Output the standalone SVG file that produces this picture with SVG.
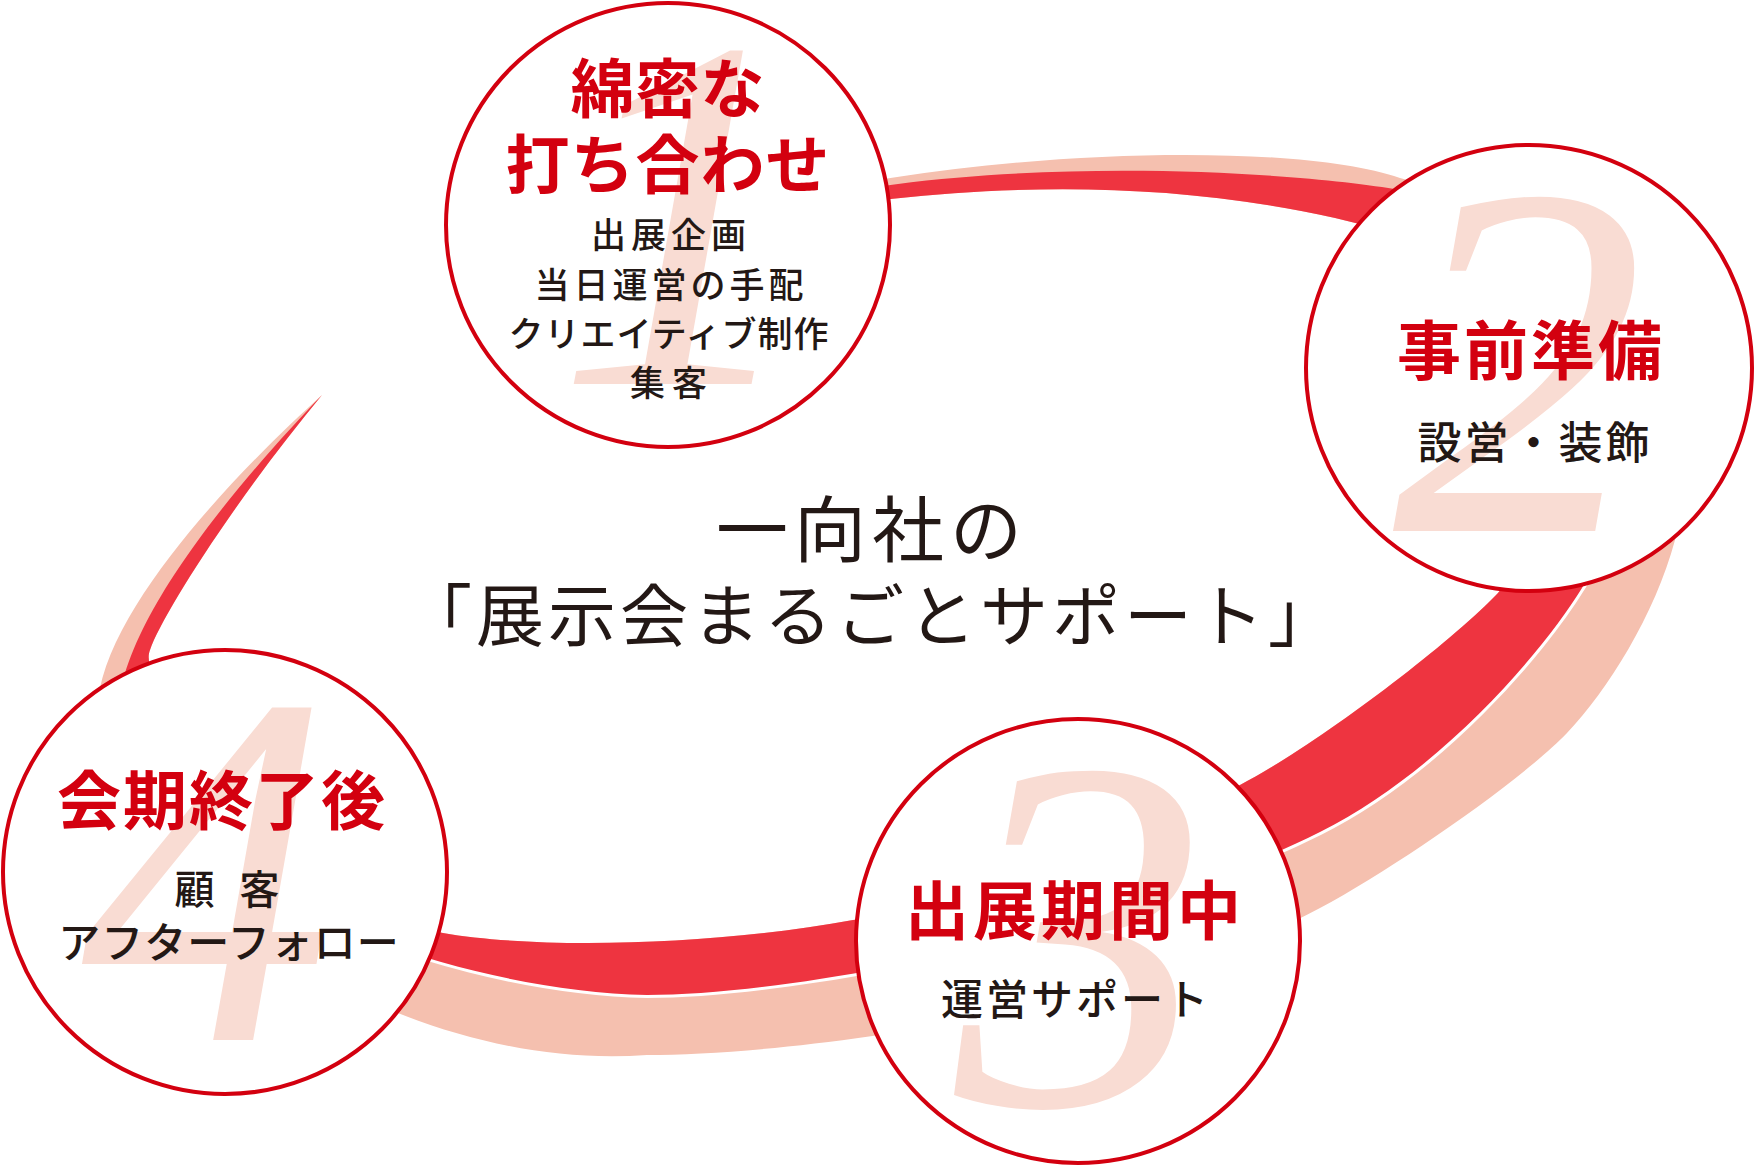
<svg xmlns="http://www.w3.org/2000/svg" width="1754" height="1168" viewBox="0 0 1754 1168">
<style>
.ring-pink{fill:#F5C0AF}
.ring-red{fill:#EE3440}
.ring-gap{fill:none;stroke:#FFFFFF;stroke-width:6}
.node-circle{fill:#FFFFFF;stroke:#D3000F;stroke-width:4}
.num{font-family:"Liberation Serif",serif;font-style:italic;font-size:505px;fill:#F9DCD3;text-anchor:middle}
.title{font-family:"Noto Sans CJK JP",sans-serif;font-weight:700;font-size:64px;fill:#D3000F;text-anchor:middle}
.sub{font-family:"Noto Sans CJK JP",sans-serif;font-weight:500;fill:#231815;text-anchor:middle}
.center{font-family:"Noto Sans CJK JP",serif;font-weight:400;fill:#231815;text-anchor:middle}
</style>
<rect width="1754" height="1168" fill="#FFFFFF"/>
<g id="connectors">
<path class="ring-pink" d="M322,395 C250,460 110,600 98,700 C90,860 380,1075 647,1055 C800,1055 1130,1010 1320,908 C1395,868 1522,780 1567,733 C1607,691 1655,615 1675,540 C1695,465 1530,209 1400,178 C1290,140 980,150 780,200 L780,215 C950,185 1180,170 1400,235 C1510,267 1538,551 1498,593 C1448,645 1320,743 1240,785 C1120,848 1003,905 853,920 C720,945 540,950 443,933 C343,915 130,697 150,650 C162,615 235,500 322,395 Z"/>
<path class="ring-gap" d="M118,720 C125,860 420,990 647,995 C800,995 1120,932 1320,832 C1440,772 1542,653 1582,588 C1600,560 1610,540 1615,520"/>
<path class="ring-red" d="M322,395 C255,465 115,620 118,720 C125,860 420,990 647,995 C800,995 1120,932 1320,832 C1440,772 1542,653 1582,588 C1622,523 1560,215 1400,190 C1300,172 1000,152 780,205 L780,215 C950,185 1180,170 1400,235 C1510,267 1538,551 1498,593 C1448,645 1320,743 1240,785 C1120,848 1003,905 853,920 C720,945 540,950 443,933 C343,915 130,697 150,650 C162,615 235,500 322,395 Z"/>
</g>
<g id="center-title">
<text class="center" x="872" y="556" font-size="72" letter-spacing="6">一向社の</text>
<text class="center" x="872" y="641" font-size="68" letter-spacing="4">「展示会まるごとサポート」</text>
</g>
<g id="node-1">
<circle class="node-circle" cx="668" cy="225" r="222"/>
<text class="num" x="682" y="384">1</text>
<text class="title" x="668" y="112" letter-spacing="1">綿密な</text>
<text class="title" x="668" y="188" letter-spacing="1">打ち合わせ</text>
<text class="sub" x="671" y="248" font-size="35" letter-spacing="5">出展企画</text>
<text class="sub" x="671" y="298" font-size="35" letter-spacing="4">当日運営の手配</text>
<text class="sub" x="669" y="347" font-size="35" letter-spacing="1">クリエイティブ制作</text>
<text class="sub" x="672" y="396" font-size="35" letter-spacing="7">集客</text>
</g>
<g id="node-2">
<circle class="node-circle" cx="1529" cy="368" r="223"/>
<text class="num" x="1519" y="531">2</text>
<text class="title" x="1531" y="374" letter-spacing="3">事前準備</text>
<text class="sub" x="1535" y="459" font-size="44" letter-spacing="3">設営・装飾</text>
</g>
<g id="node-3">
<circle class="node-circle" cx="1078" cy="941" r="222"/>
<text class="num" x="1081" y="1105">3</text>
<text class="title" x="1075" y="934" letter-spacing="4">出展期間中</text>
<text class="sub" x="1076" y="1015" font-size="42" letter-spacing="3">運営サポート</text>
</g>
<g id="node-4">
<circle class="node-circle" cx="225" cy="872" r="222"/>
<text class="num" x="207" y="1040">4</text>
<text class="title" x="222" y="824" letter-spacing="2">会期終了後</text>
<text class="sub" x="231" y="904" font-size="40" letter-spacing="8">顧 客</text>
<text class="sub" x="229" y="958" font-size="42" letter-spacing="1">アフターフォロー</text>
</g>
</svg>
